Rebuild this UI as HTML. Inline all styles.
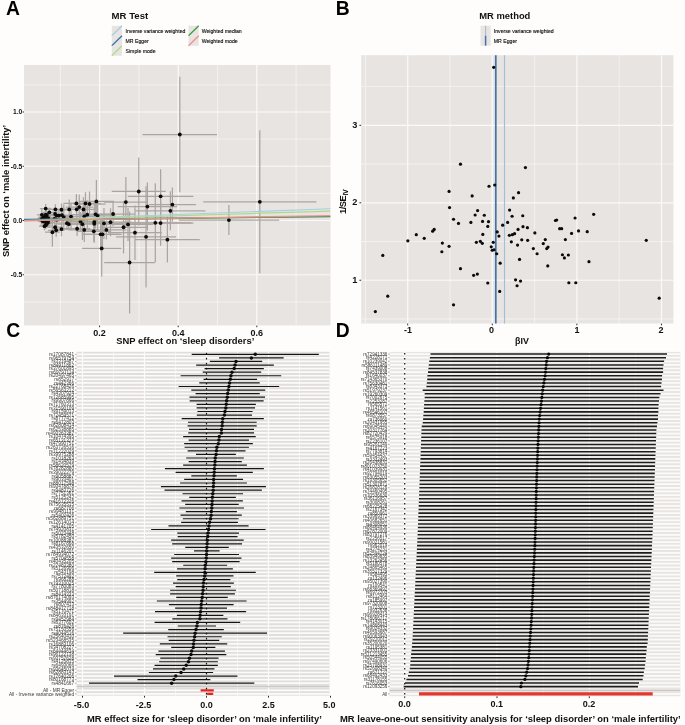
<!DOCTYPE html>
<html><head><meta charset="utf-8"><title>MR analysis figure</title>
<style>html,body{margin:0;padding:0;background:#fefdfb;}svg{display:block}</style></head>
<body><svg width="685" height="725" viewBox="0 0 685 725">
<rect width="685" height="725" fill="#fefdfb"/>
<rect x="24.0" y="65.0" width="306.5" height="260.4" fill="#e8e4e2"/>
<g stroke="#fbfaf9"><line x1="60.3" x2="60.3" y1="65.0" y2="325.4" stroke-width="0.6"/><line x1="138.9" x2="138.9" y1="65.0" y2="325.4" stroke-width="0.6"/><line x1="217.5" x2="217.5" y1="65.0" y2="325.4" stroke-width="0.6"/><line x1="296.1" x2="296.1" y1="65.0" y2="325.4" stroke-width="0.6"/><line y1="84.88" y2="84.88" x1="24.0" x2="330.5" stroke-width="0.6"/><line y1="139.12" y2="139.12" x1="24.0" x2="330.5" stroke-width="0.6"/><line y1="193.38" y2="193.38" x1="24.0" x2="330.5" stroke-width="0.6"/><line y1="247.62" y2="247.62" x1="24.0" x2="330.5" stroke-width="0.6"/><line y1="301.88" y2="301.88" x1="24.0" x2="330.5" stroke-width="0.6"/><line x1="99.6" x2="99.6" y1="65.0" y2="325.4" stroke-width="1.2"/><line x1="178.2" x2="178.2" y1="65.0" y2="325.4" stroke-width="1.2"/><line x1="256.8" x2="256.8" y1="65.0" y2="325.4" stroke-width="1.2"/><line y1="112" y2="112" x1="24.0" x2="330.5" stroke-width="1.2"/><line y1="166.25" y2="166.25" x1="24.0" x2="330.5" stroke-width="1.2"/><line y1="220.5" y2="220.5" x1="24.0" x2="330.5" stroke-width="1.2"/><line y1="274.75" y2="274.75" x1="24.0" x2="330.5" stroke-width="1.2"/></g>
<clipPath id="ca"><rect x="24.0" y="65.0" width="306.5" height="260.4"/></clipPath>
<g clip-path="url(#ca)"><g stroke="#aaa5a2" stroke-width="1.25" fill="none"><path d="M39.9 208.56H51.51M45.7 204.07V213.05"/><path d="M42.68 212.35H56.01M49.35 207.58V217.12"/><path d="M47.33 209.32H63.5M55.42 204.19V214.44"/><path d="M51.97 209.77H71M61.49 203.58V215.96"/><path d="M57.89 209.47H80.56M69.23 199.48V219.46"/><path d="M63.35 203.4H89.37M76.36 194.02V212.77"/><path d="M65.56 207.04H92.93M79.24 194.58V219.5"/><path d="M63.58 209.32H89.75M76.66 200.66V217.98"/><path d="M68.81 209.47H98.18M83.49 197.25V221.68"/><path d="M70.32 203.4H100.62M85.47 192.33V214.47"/><path d="M73.45 204.01H105.68M89.56 191.62V216.39"/><path d="M78.68 201.42H114.11M96.39 179.98V222.87"/><path d="M71.71 214.63H102.87M87.29 200.24V229.02"/><path d="M69.5 216.3H99.3M84.4 205.3V227.29"/><path d="M78.1 214.33H113.18M95.64 200.19V228.46"/><path d="M79.61 215.84H115.61M97.61 201.73V229.95"/><path d="M91.45 214.02H134.73M113.09 201.71V226.33"/><path d="M59.29 216.6H82.81M71.05 202.91V230.3"/><path d="M53.71 217.06H73.81M63.76 204.39V229.72"/><path d="M52.32 215.08H71.56M61.94 207.08V223.09"/><path d="M50 215.54H67.82M58.91 209.06V222.02"/><path d="M47.1 214.02H63.13M55.11 207.44V220.6"/><path d="M48.26 215.54H65M56.63 208.23V222.85"/><path d="M40.71 215.08H52.82M46.77 211.09V219.08"/><path d="M39.55 216.6H50.95M45.25 212.07V221.14"/><path d="M38.16 217.36H48.7M43.43 213.28V221.44"/><path d="M38.97 218.12H50.01M44.49 214.29V221.95"/><path d="M40.48 218.12H52.45M46.46 211.04V225.2"/><path d="M41.87 218.12H54.69M48.28 214.59V221.65"/><path d="M38.39 220.4H49.07M43.73 218.72V222.07"/><path d="M40.13 221.16H51.88M46.01 217.41V224.9"/><path d="M41.64 222.67H54.32M47.98 218.41V226.93"/><path d="M40.71 223.43H52.82M46.77 219.33V227.53"/><path d="M38.97 226.16H50.01M44.49 222.09V230.24"/><path d="M46.52 218.88H62.19M54.35 213.61V224.14"/><path d="M48.26 219.64H65M56.63 208.18V231.09"/><path d="M47.1 227.23H63.13M55.11 221.47V232.98"/><path d="M47.91 230.26H64.44M56.18 223.84V236.68"/><path d="M45.01 232.23H59.76M52.38 217.78V246.69"/><path d="M51.97 229.05H71M61.49 221.81V236.29"/><path d="M56.15 223.13H77.75M66.95 216.25V230"/><path d="M57.55 224.19H80M68.77 217.88V230.5"/><path d="M63.93 228.74H90.31M77.12 221.53V235.95"/><path d="M66.49 221.61H94.43M80.46 211.94V231.28"/><path d="M68 224.19H96.87M82.43 208.29V240.09"/><path d="M69.39 229.96H99.12M84.25 217.84V242.07"/><path d="M77.05 221.91H111.49M94.27 201.01V242.82"/><path d="M77.05 223.74H111.49M94.27 213.1V234.37"/><path d="M76.7 231.32H110.93M93.81 220.97V241.68"/><path d="M84.48 223.43H123.48M103.98 207.95V238.91"/><path d="M89.47 222.22H131.54M110.51 208.16V236.27"/><path d="M86.34 229.96H126.48M106.41 220.53V239.38"/><path d="M81.93 234.36H119.36M100.64 218.32V250.4"/><path d="M83.32 234.36H121.61M102.47 219.19V249.52"/><path d="M82.11 248.47H121.31M101.71 220.47V276.47"/><path d="M103.85 202.09H147.85M125.85 177.09V227.09"/><path d="M111.77 191.49H165.77M138.77 157.49V225.49"/><path d="M117.68 206.56H177.08M147.38 182.56V230.56"/><path d="M127.81 196.29H193.43M160.62 169.29V223.29"/><path d="M148.68 204.57H196.08M172.38 187.57V221.57"/><path d="M135.39 210.86H205.39M170.39 191.36V230.36"/><path d="M119.32 222.78H191.32M155.32 183.28V262.28"/><path d="M127.81 223.11H193.43M160.62 200.51V245.71"/><path d="M102.86 224.44H153.15M128.01 207.94V240.94"/><path d="M99.44 227.25H147.63M123.54 200.95V253.55"/><path d="M107.96 232.72H161.96M134.96 205.42V260.02"/><path d="M116.05 236.85H176.05M146.05 186.25V287.45"/><path d="M135.01 239.67H199.81M167.41 216.87V262.47"/><path d="M104.2 262.5H155M129.6 211.5V313.5"/><path d="M142.6 134.5H217M179.8 76.8V192.2"/><path d="M203.2 201.8H316.4M259.8 130.3V273.3"/><path d="M178.6 220.1H279.2M228.9 205.1V235.1"/><path d="M41.76 220.51H54.52M48.14 215.12V225.89"/><path d="M40.05 217.65H51.75M45.9 213.56V221.74"/><path d="M39.79 218.44H51.33M45.56 214.35V222.52"/><path d="M36.97 214.81H46.78M41.87 208.87V220.75"/><path d="M39.8 219.97H51.35M45.58 215.65V224.28"/><path d="M36.9 218.99H46.67M41.79 215.41V222.57"/><path d="M37.83 220.15H48.17M43 216.42V223.88"/><path d="M39.65 220.15H51.1M45.37 215.15V225.15"/><path d="M37.35 220.33H47.4M42.38 217.69V222.97"/><path d="M38.9 221.64H49.9M44.4 215.67V227.61"/><path d="M39.56 219.15H50.96M45.26 214.92V223.38"/><path d="M39.72 220.37H51.23M45.47 215.53V225.2"/><path d="M39.67 214.98H51.13M45.4 210.94V219.01"/><path d="M40.32 218.07H52.2M46.26 213.5V222.64"/><path d="M37.19 219.78H47.14M42.17 216.37V223.19"/><path d="M39.72 219.87H51.23M45.48 214.35V225.39"/><path d="M37.65 221.19H47.88M42.76 217.78V224.6"/><path d="M37.16 219.31H47.09M42.13 216.25V222.36"/><path d="M40.49 214.9H52.46M46.47 210.69V219.11"/><path d="M39.69 220.58H51.17M45.43 215.88V225.28"/><path d="M39.98 225.21H51.65M45.81 221.08V229.34"/></g>
<g fill="#0a0a0a"><circle cx="45.7" cy="208.56" r="1.9"/><circle cx="49.35" cy="212.35" r="1.9"/><circle cx="55.42" cy="209.32" r="1.9"/><circle cx="61.49" cy="209.77" r="1.9"/><circle cx="69.23" cy="209.47" r="1.9"/><circle cx="76.36" cy="203.4" r="1.9"/><circle cx="79.24" cy="207.04" r="1.9"/><circle cx="76.66" cy="209.32" r="1.9"/><circle cx="83.49" cy="209.47" r="1.9"/><circle cx="85.47" cy="203.4" r="1.9"/><circle cx="89.56" cy="204.01" r="1.9"/><circle cx="96.39" cy="201.42" r="1.9"/><circle cx="87.29" cy="214.63" r="1.9"/><circle cx="84.4" cy="216.3" r="1.9"/><circle cx="95.64" cy="214.33" r="1.9"/><circle cx="97.61" cy="215.84" r="1.9"/><circle cx="113.09" cy="214.02" r="1.9"/><circle cx="71.05" cy="216.6" r="1.9"/><circle cx="63.76" cy="217.06" r="1.9"/><circle cx="61.94" cy="215.08" r="1.9"/><circle cx="58.91" cy="215.54" r="1.9"/><circle cx="55.11" cy="214.02" r="1.9"/><circle cx="56.63" cy="215.54" r="1.9"/><circle cx="46.77" cy="215.08" r="1.9"/><circle cx="45.25" cy="216.6" r="1.9"/><circle cx="43.43" cy="217.36" r="1.9"/><circle cx="44.49" cy="218.12" r="1.9"/><circle cx="46.46" cy="218.12" r="1.9"/><circle cx="48.28" cy="218.12" r="1.9"/><circle cx="43.73" cy="220.4" r="1.9"/><circle cx="46.01" cy="221.16" r="1.9"/><circle cx="47.98" cy="222.67" r="1.9"/><circle cx="46.77" cy="223.43" r="1.9"/><circle cx="44.49" cy="226.16" r="1.9"/><circle cx="54.35" cy="218.88" r="1.9"/><circle cx="56.63" cy="219.64" r="1.9"/><circle cx="55.11" cy="227.23" r="1.9"/><circle cx="56.18" cy="230.26" r="1.9"/><circle cx="52.38" cy="232.23" r="1.9"/><circle cx="61.49" cy="229.05" r="1.9"/><circle cx="66.95" cy="223.13" r="1.9"/><circle cx="68.77" cy="224.19" r="1.9"/><circle cx="77.12" cy="228.74" r="1.9"/><circle cx="80.46" cy="221.61" r="1.9"/><circle cx="82.43" cy="224.19" r="1.9"/><circle cx="84.25" cy="229.96" r="1.9"/><circle cx="94.27" cy="221.91" r="1.9"/><circle cx="94.27" cy="223.74" r="1.9"/><circle cx="93.81" cy="231.32" r="1.9"/><circle cx="103.98" cy="223.43" r="1.9"/><circle cx="110.51" cy="222.22" r="1.9"/><circle cx="106.41" cy="229.96" r="1.9"/><circle cx="100.64" cy="234.36" r="1.9"/><circle cx="102.47" cy="234.36" r="1.9"/><circle cx="101.71" cy="248.47" r="1.9"/><circle cx="125.85" cy="202.09" r="1.9"/><circle cx="138.77" cy="191.49" r="1.9"/><circle cx="147.38" cy="206.56" r="1.9"/><circle cx="160.62" cy="196.29" r="1.9"/><circle cx="172.38" cy="204.57" r="1.9"/><circle cx="170.39" cy="210.86" r="1.9"/><circle cx="155.32" cy="222.78" r="1.9"/><circle cx="160.62" cy="223.11" r="1.9"/><circle cx="128.01" cy="224.44" r="1.9"/><circle cx="123.54" cy="227.25" r="1.9"/><circle cx="134.96" cy="232.72" r="1.9"/><circle cx="146.05" cy="236.85" r="1.9"/><circle cx="167.41" cy="239.67" r="1.9"/><circle cx="129.6" cy="262.5" r="1.9"/><circle cx="179.8" cy="134.5" r="1.9"/><circle cx="259.8" cy="201.8" r="1.9"/><circle cx="228.9" cy="220.1" r="1.9"/><circle cx="48.14" cy="220.51" r="1.9"/><circle cx="45.9" cy="217.65" r="1.9"/><circle cx="45.56" cy="218.44" r="1.9"/><circle cx="41.87" cy="214.81" r="1.9"/><circle cx="45.58" cy="219.97" r="1.9"/><circle cx="41.79" cy="218.99" r="1.9"/><circle cx="43" cy="220.15" r="1.9"/><circle cx="45.37" cy="220.15" r="1.9"/><circle cx="42.38" cy="220.33" r="1.9"/><circle cx="44.4" cy="221.64" r="1.9"/><circle cx="45.26" cy="219.15" r="1.9"/><circle cx="45.47" cy="220.37" r="1.9"/><circle cx="45.4" cy="214.98" r="1.9"/><circle cx="46.26" cy="218.07" r="1.9"/><circle cx="42.17" cy="219.78" r="1.9"/><circle cx="45.48" cy="219.87" r="1.9"/><circle cx="42.76" cy="221.19" r="1.9"/><circle cx="42.13" cy="219.31" r="1.9"/><circle cx="46.47" cy="214.9" r="1.9"/><circle cx="45.43" cy="220.58" r="1.9"/><circle cx="45.81" cy="225.21" r="1.9"/></g>
<line x1="24.0" y1="220.3" x2="330.5" y2="208.7" stroke="#a6cee3" stroke-width="1.15"/>
<line x1="24.0" y1="219.4" x2="330.5" y2="216.6" stroke="#3b74b0" stroke-width="1.15"/>
<line x1="24.0" y1="220.5" x2="330.5" y2="211.1" stroke="#a9dd8a" stroke-width="1.15"/>
<line x1="24.0" y1="220.7" x2="330.5" y2="216.5" stroke="#3f9e3a" stroke-width="1.15"/>
<line x1="24.0" y1="220.6" x2="330.5" y2="215.6" stroke="#f28e8c" stroke-width="1.15"/>
</g>
<text x="22.3" y="114.3" text-anchor="end" font-size="6.7" font-weight="bold" font-family="Liberation Sans, Arial, sans-serif" fill="#111">1.0</text>
<line x1="22.6" x2="24" y1="112" y2="112" stroke="#151515" stroke-width="0.9"/>
<text x="22.3" y="168.55" text-anchor="end" font-size="6.7" font-weight="bold" font-family="Liberation Sans, Arial, sans-serif" fill="#111">-0.5</text>
<line x1="22.6" x2="24" y1="166.25" y2="166.25" stroke="#151515" stroke-width="0.9"/>
<text x="22.3" y="222.8" text-anchor="end" font-size="6.7" font-weight="bold" font-family="Liberation Sans, Arial, sans-serif" fill="#111">0.0</text>
<line x1="22.6" x2="24" y1="220.5" y2="220.5" stroke="#151515" stroke-width="0.9"/>
<text x="22.3" y="277.05" text-anchor="end" font-size="6.7" font-weight="bold" font-family="Liberation Sans, Arial, sans-serif" fill="#111">-0.5</text>
<line x1="22.6" x2="24" y1="274.75" y2="274.75" stroke="#151515" stroke-width="0.9"/>
<text x="99.6" y="336.3" text-anchor="middle" font-size="9" font-weight="bold" font-family="Liberation Sans, Arial, sans-serif" fill="#111">0.2</text>
<line y1="325.6" y2="327.2" x1="99.6" x2="99.6" stroke="#151515" stroke-width="0.9"/>
<text x="178.2" y="336.3" text-anchor="middle" font-size="9" font-weight="bold" font-family="Liberation Sans, Arial, sans-serif" fill="#111">0.4</text>
<line y1="325.6" y2="327.2" x1="178.2" x2="178.2" stroke="#151515" stroke-width="0.9"/>
<text x="256.8" y="336.3" text-anchor="middle" font-size="9" font-weight="bold" font-family="Liberation Sans, Arial, sans-serif" fill="#111">0.6</text>
<line y1="325.6" y2="327.2" x1="256.8" x2="256.8" stroke="#151515" stroke-width="0.9"/>
<text x="185.3" y="343.6" text-anchor="middle" font-size="9.4" font-weight="bold" font-family="Liberation Sans, Arial, sans-serif" fill="#111">SNP effect on ‘sleep disorders’</text>
<text transform="translate(8.7,191) rotate(-90)" text-anchor="middle" font-size="9.4" font-weight="bold" font-family="Liberation Sans, Arial, sans-serif" fill="#111">SNP effect on ‘male infertility’</text>
<text x="111.6" y="19.2" font-size="9.6" font-weight="bold" font-family="Liberation Sans, Arial, sans-serif" fill="#111">MR Test</text>
<rect x="111.8" y="25.8" width="10.2" height="10" fill="#e8e4e2"/>
<line x1="111.8" y1="35.8" x2="122.0" y2="25.8" stroke="#a6cee3" stroke-width="1.3"/>
<rect x="111.8" y="35.8" width="10.2" height="10" fill="#e8e4e2"/>
<line x1="111.8" y1="45.8" x2="122.0" y2="35.8" stroke="#3b74b0" stroke-width="1.3"/>
<rect x="111.8" y="45.8" width="10.2" height="10" fill="#e8e4e2"/>
<line x1="111.8" y1="55.8" x2="122.0" y2="45.8" stroke="#a9dd8a" stroke-width="1.3"/>
<rect x="188.5" y="25.8" width="10.2" height="10" fill="#e8e4e2"/>
<line x1="188.5" y1="35.8" x2="198.7" y2="25.8" stroke="#3f9e3a" stroke-width="1.3"/>
<rect x="188.5" y="35.8" width="10.2" height="10" fill="#e8e4e2"/>
<line x1="188.5" y1="45.8" x2="198.7" y2="35.8" stroke="#f28e8c" stroke-width="1.3"/>
<text x="125.5" y="32.6" font-size="5.17" font-family="Liberation Sans, Arial, sans-serif" fill="#0a0a0a" stroke="#0a0a0a" stroke-width="0.12">Inverse variance weighted</text>
<text x="125.5" y="42.6" font-size="5.17" font-family="Liberation Sans, Arial, sans-serif" fill="#0a0a0a" stroke="#0a0a0a" stroke-width="0.12">MR Egger</text>
<text x="125.5" y="52.6" font-size="5.17" font-family="Liberation Sans, Arial, sans-serif" fill="#0a0a0a" stroke="#0a0a0a" stroke-width="0.12">Simple mode</text>
<text x="201.7" y="32.6" font-size="5.17" font-family="Liberation Sans, Arial, sans-serif" fill="#0a0a0a" stroke="#0a0a0a" stroke-width="0.12">Weighted median</text>
<text x="201.7" y="42.6" font-size="5.17" font-family="Liberation Sans, Arial, sans-serif" fill="#0a0a0a" stroke="#0a0a0a" stroke-width="0.12">Weighted mode</text>
<rect x="361.2" y="55.2" width="312.2" height="268.3" fill="#e8e4e2"/>
<g stroke="#fbfaf9"><line x1="365.4" x2="365.4" y1="55.2" y2="323.5" stroke-width="0.6"/><line x1="450" x2="450" y1="55.2" y2="323.5" stroke-width="0.6"/><line x1="534.6" x2="534.6" y1="55.2" y2="323.5" stroke-width="0.6"/><line x1="619.2" x2="619.2" y1="55.2" y2="323.5" stroke-width="0.6"/><line y1="86.62" y2="86.62" x1="361.2" x2="673.4" stroke-width="0.6"/><line y1="164.07" y2="164.07" x1="361.2" x2="673.4" stroke-width="0.6"/><line y1="241.52" y2="241.52" x1="361.2" x2="673.4" stroke-width="0.6"/><line y1="318.97" y2="318.97" x1="361.2" x2="673.4" stroke-width="0.6"/><line x1="407.7" x2="407.7" y1="55.2" y2="323.5" stroke-width="1.2"/><line x1="492.3" x2="492.3" y1="55.2" y2="323.5" stroke-width="1.2"/><line x1="576.9" x2="576.9" y1="55.2" y2="323.5" stroke-width="1.2"/><line x1="661.5" x2="661.5" y1="55.2" y2="323.5" stroke-width="1.2"/><line y1="125.35" y2="125.35" x1="361.2" x2="673.4" stroke-width="1.2"/><line y1="202.8" y2="202.8" x1="361.2" x2="673.4" stroke-width="1.2"/><line y1="280.25" y2="280.25" x1="361.2" x2="673.4" stroke-width="1.2"/></g>
<line x1="504.5" x2="504.5" y1="55.2" y2="323.5" stroke="#9dbfd8" stroke-width="1.1"/>
<line x1="495.8" x2="495.8" y1="55.2" y2="323.5" stroke="#4472a8" stroke-width="1.7"/>
<g fill="#0a0a0a"><circle cx="460.47" cy="164.15" r="1.6"/><circle cx="449.06" cy="191.45" r="1.6"/><circle cx="489.01" cy="186.23" r="1.6"/><circle cx="494.72" cy="184.99" r="1.6"/><circle cx="472.14" cy="195.91" r="1.6"/><circle cx="518.55" cy="192.69" r="1.6"/><circle cx="513.34" cy="197.9" r="1.6"/><circle cx="449.55" cy="207.58" r="1.6"/><circle cx="477.6" cy="210.55" r="1.6"/><circle cx="509.61" cy="210.06" r="1.6"/><circle cx="475.12" cy="215.02" r="1.6"/><circle cx="484.3" cy="215.27" r="1.6"/><circle cx="512.09" cy="216.26" r="1.6"/><circle cx="522.77" cy="215.77" r="1.6"/><circle cx="453.53" cy="219.24" r="1.6"/><circle cx="458.49" cy="223.46" r="1.6"/><circle cx="470.9" cy="222.47" r="1.6"/><circle cx="482.56" cy="221.47" r="1.6"/><circle cx="488.52" cy="221.72" r="1.6"/><circle cx="507.63" cy="222.47" r="1.6"/><circle cx="502.66" cy="225.2" r="1.6"/><circle cx="487.77" cy="226.44" r="1.6"/><circle cx="523.01" cy="226.69" r="1.6"/><circle cx="434.17" cy="229.42" r="1.6"/><circle cx="432.68" cy="231.15" r="1.6"/><circle cx="518.05" cy="229.42" r="1.6"/><circle cx="497.2" cy="231.9" r="1.6"/><circle cx="416.3" cy="234.63" r="1.6"/><circle cx="482.81" cy="234.38" r="1.6"/><circle cx="498.94" cy="236.12" r="1.6"/><circle cx="509.36" cy="235.37" r="1.6"/><circle cx="512.34" cy="234.63" r="1.6"/><circle cx="514.58" cy="233.64" r="1.6"/><circle cx="424.24" cy="238.35" r="1.6"/><circle cx="407.86" cy="240.83" r="1.6"/><circle cx="442.36" cy="243.07" r="1.6"/><circle cx="476.36" cy="242.32" r="1.6"/><circle cx="480.33" cy="241.33" r="1.6"/><circle cx="482.31" cy="243.31" r="1.6"/><circle cx="493.23" cy="242.32" r="1.6"/><circle cx="511.35" cy="241.82" r="1.6"/><circle cx="521.77" cy="239.84" r="1.6"/><circle cx="449.06" cy="246.29" r="1.6"/><circle cx="491.25" cy="246.79" r="1.6"/><circle cx="517.55" cy="245.05" r="1.6"/><circle cx="441.86" cy="251.75" r="1.6"/><circle cx="492.24" cy="250.26" r="1.6"/><circle cx="493.98" cy="249.77" r="1.6"/><circle cx="496.71" cy="253.74" r="1.6"/><circle cx="382.8" cy="255.47" r="1.6"/><circle cx="519.54" cy="259.45" r="1.6"/><circle cx="500.18" cy="263.17" r="1.6"/><circle cx="460.47" cy="268.63" r="1.6"/><circle cx="473.63" cy="275.33" r="1.6"/><circle cx="477.35" cy="274.09" r="1.6"/><circle cx="515.57" cy="279.8" r="1.6"/><circle cx="520.53" cy="281.04" r="1.6"/><circle cx="487.77" cy="283.02" r="1.6"/><circle cx="517.06" cy="285.75" r="1.6"/><circle cx="499.69" cy="291.46" r="1.6"/><circle cx="387.76" cy="296.18" r="1.6"/><circle cx="453.53" cy="304.86" r="1.6"/><circle cx="375.35" cy="311.56" r="1.6"/><circle cx="525.42" cy="167.62" r="1.6"/><circle cx="527.41" cy="227.68" r="1.6"/><circle cx="534.85" cy="232.89" r="1.6"/><circle cx="527.66" cy="240.34" r="1.6"/><circle cx="545.28" cy="239.59" r="1.6"/><circle cx="543.29" cy="243.56" r="1.6"/><circle cx="548.01" cy="247.04" r="1.6"/><circle cx="546.77" cy="248.53" r="1.6"/><circle cx="533.36" cy="248.53" r="1.6"/><circle cx="537.09" cy="253.74" r="1.6"/><circle cx="547.76" cy="265.9" r="1.6"/><circle cx="555.45" cy="220.48" r="1.6"/><circle cx="556.69" cy="219.99" r="1.6"/><circle cx="575.06" cy="218" r="1.6"/><circle cx="593.67" cy="214.28" r="1.6"/><circle cx="559.67" cy="228.67" r="1.6"/><circle cx="561.66" cy="228.67" r="1.6"/><circle cx="578.53" cy="230.91" r="1.6"/><circle cx="587.22" cy="231.65" r="1.6"/><circle cx="571.58" cy="233.39" r="1.6"/><circle cx="565.38" cy="239.59" r="1.6"/><circle cx="562.4" cy="254.73" r="1.6"/><circle cx="564.39" cy="257.96" r="1.6"/><circle cx="568.36" cy="254.98" r="1.6"/><circle cx="588.96" cy="261.68" r="1.6"/><circle cx="568.85" cy="282.77" r="1.6"/><circle cx="575.8" cy="282.77" r="1.6"/><circle cx="646.28" cy="240.34" r="1.6"/><circle cx="659.19" cy="298.16" r="1.6"/><circle cx="493.7" cy="67.3" r="1.6"/></g>
<text x="357.3" y="127.65" text-anchor="end" font-size="9.2" font-weight="bold" font-family="Liberation Sans, Arial, sans-serif" fill="#111">3</text>
<line x1="359.4" x2="361.2" y1="125.35" y2="125.35" stroke="#151515" stroke-width="0.9"/>
<text x="357.3" y="205.1" text-anchor="end" font-size="9.2" font-weight="bold" font-family="Liberation Sans, Arial, sans-serif" fill="#111">2</text>
<line x1="359.4" x2="361.2" y1="202.8" y2="202.8" stroke="#151515" stroke-width="0.9"/>
<text x="357.3" y="282.55" text-anchor="end" font-size="9.2" font-weight="bold" font-family="Liberation Sans, Arial, sans-serif" fill="#111">1</text>
<line x1="359.4" x2="361.2" y1="280.25" y2="280.25" stroke="#151515" stroke-width="0.9"/>
<text x="408" y="333" text-anchor="middle" font-size="9" font-weight="bold" font-family="Liberation Sans, Arial, sans-serif" fill="#111">-1</text>
<line y1="323.6" y2="325.3" x1="407.7" x2="407.7" stroke="#151515" stroke-width="0.9"/>
<text x="491.5" y="333" text-anchor="middle" font-size="9" font-weight="bold" font-family="Liberation Sans, Arial, sans-serif" fill="#111">0</text>
<line y1="323.6" y2="325.3" x1="492.3" x2="492.3" stroke="#151515" stroke-width="0.9"/>
<text x="576.9" y="333" text-anchor="middle" font-size="9" font-weight="bold" font-family="Liberation Sans, Arial, sans-serif" fill="#111">1</text>
<line y1="323.6" y2="325.3" x1="576.9" x2="576.9" stroke="#151515" stroke-width="0.9"/>
<text x="661" y="333" text-anchor="middle" font-size="9" font-weight="bold" font-family="Liberation Sans, Arial, sans-serif" fill="#111">2</text>
<line y1="323.6" y2="325.3" x1="661.5" x2="661.5" stroke="#151515" stroke-width="0.9"/>
<text x="522" y="343.6" text-anchor="middle" font-size="8.9" font-weight="bold" font-family="Liberation Sans, Arial, sans-serif" fill="#111">βIV</text>
<text transform="translate(345.8,214) rotate(-90)" font-size="9.3" letter-spacing="-0.45" font-weight="bold" font-family="Liberation Sans, Arial, sans-serif" fill="#111">1/SE<tspan font-size="6.3" letter-spacing="-0.2" font-weight="normal" dy="1.9" dx="0.3" fill="#000" stroke="#000" stroke-width="0.2">IV</tspan></text>
<text x="479.3" y="18.8" font-size="9.4" font-weight="bold" font-family="Liberation Sans, Arial, sans-serif" fill="#111">MR method</text>
<rect x="480.5" y="25.7" width="10.2" height="20" fill="#e8e4e2"/>
<line x1="485.6" x2="485.6" y1="25.7" y2="35.7" stroke="#9dbfd8" stroke-width="1.1"/>
<line x1="485.6" x2="485.6" y1="35.7" y2="45.7" stroke="#4472a8" stroke-width="1.5"/>
<text x="493.8" y="32.8" font-size="5.17" font-family="Liberation Sans, Arial, sans-serif" fill="#0a0a0a" stroke="#0a0a0a" stroke-width="0.12">Inverse variance weighted</text>
<text x="493.8" y="42.8" font-size="5.17" font-family="Liberation Sans, Arial, sans-serif" fill="#0a0a0a" stroke="#0a0a0a" stroke-width="0.12">MR Egger</text>
<rect x="76.5" y="351.8" width="253" height="343.9" fill="#e1dddb"/>
<path d="M76.5 354.3H329.5M76.5 357.88H329.5M76.5 361.45H329.5M76.5 365.03H329.5M76.5 368.6H329.5M76.5 372.18H329.5M76.5 375.75H329.5M76.5 379.32H329.5M76.5 382.9H329.5M76.5 386.48H329.5M76.5 390.05H329.5M76.5 393.62H329.5M76.5 397.2H329.5M76.5 400.78H329.5M76.5 404.35H329.5M76.5 407.93H329.5M76.5 411.5H329.5M76.5 415.08H329.5M76.5 418.65H329.5M76.5 422.23H329.5M76.5 425.8H329.5M76.5 429.38H329.5M76.5 432.95H329.5M76.5 436.53H329.5M76.5 440.1H329.5M76.5 443.68H329.5M76.5 447.25H329.5M76.5 450.83H329.5M76.5 454.4H329.5M76.5 457.98H329.5M76.5 461.55H329.5M76.5 465.12H329.5M76.5 468.7H329.5M76.5 472.28H329.5M76.5 475.85H329.5M76.5 479.43H329.5M76.5 483H329.5M76.5 486.58H329.5M76.5 490.15H329.5M76.5 493.73H329.5M76.5 497.3H329.5M76.5 500.88H329.5M76.5 504.45H329.5M76.5 508.02H329.5M76.5 511.6H329.5M76.5 515.17H329.5M76.5 518.75H329.5M76.5 522.33H329.5M76.5 525.9H329.5M76.5 529.48H329.5M76.5 533.05H329.5M76.5 536.62H329.5M76.5 540.2H329.5M76.5 543.78H329.5M76.5 547.35H329.5M76.5 550.92H329.5M76.5 554.5H329.5M76.5 558.08H329.5M76.5 561.65H329.5M76.5 565.23H329.5M76.5 568.8H329.5M76.5 572.38H329.5M76.5 575.95H329.5M76.5 579.53H329.5M76.5 583.1H329.5M76.5 586.67H329.5M76.5 590.25H329.5M76.5 593.83H329.5M76.5 597.4H329.5M76.5 600.98H329.5M76.5 604.55H329.5M76.5 608.12H329.5M76.5 611.7H329.5M76.5 615.28H329.5M76.5 618.85H329.5M76.5 622.42H329.5M76.5 626H329.5M76.5 629.58H329.5M76.5 633.15H329.5M76.5 636.73H329.5M76.5 640.3H329.5M76.5 643.88H329.5M76.5 647.45H329.5M76.5 651.03H329.5M76.5 654.6H329.5M76.5 658.17H329.5M76.5 661.75H329.5M76.5 665.33H329.5M76.5 668.9H329.5M76.5 672.48H329.5M76.5 676.05H329.5M76.5 679.62H329.5M76.5 683.2H329.5M76.5 686.78H329.5M76.5 690.35H329.5M76.5 693.92H329.5" stroke="#fcfbfa" stroke-width="1.7" fill="none"/>
<g stroke="#fcfbfa"><line x1="113.5" x2="113.5" y1="351.8" y2="695.7" stroke-width="0.6"/><line x1="175.5" x2="175.5" y1="351.8" y2="695.7" stroke-width="0.6"/><line x1="237.5" x2="237.5" y1="351.8" y2="695.7" stroke-width="0.6"/><line x1="299.5" x2="299.5" y1="351.8" y2="695.7" stroke-width="0.6"/><line x1="82.5" x2="82.5" y1="351.8" y2="695.7" stroke-width="1.2"/><line x1="144.5" x2="144.5" y1="351.8" y2="695.7" stroke-width="1.2"/><line x1="206.5" x2="206.5" y1="351.8" y2="695.7" stroke-width="1.2"/><line x1="268.5" x2="268.5" y1="351.8" y2="695.7" stroke-width="1.2"/></g>
<clipPath id="cc"><rect x="76.5" y="351.8" width="253" height="343.9"/></clipPath>
<g clip-path="url(#cc)"><path d="M191.69 354.3H318.82M219.08 357.88H283.66M209.88 361.45H262.2M196.19 365.03H273.85M204.57 368.6H263.84M202.73 372.18H261.18M180.66 375.75H281.21M203.55 379.32H257.09M199.26 382.9H259.75M178.61 386.48H279.17M191.28 390.05H265.27M195.58 393.62H259.75M189.45 397.2H265.07M189.65 400.78H263.64M196.6 404.35H255.87M196.6 407.93H255.05M197.42 411.5H252.6M196.8 415.08H251.99M181.68 418.65H263.84M188.01 422.23H256.69M187.61 425.8H256.69M189.04 429.38H254.03M188.26 432.95H254.07M183.15 436.53H255.71M188.67 440.1H248.96M184.18 443.68H252.85M184.58 447.25H248.96M187.65 450.83H245.49M196.03 454.4H235.88M186.22 457.98H243.85M188.67 461.55H241.81M183.15 465.12H246.92M164.96 468.7H263.88M175.59 472.28H252.85M191.33 475.85H236.91M184.18 479.43H243.04M180.09 483H246.92M160.88 486.58H265.93M164.55 490.15H261.84M182.54 493.73H243.04M189.28 497.3H235.88M181.52 500.88H242.83M185.2 504.45H238.74M179.47 508.02H244.06M185.81 511.6H236.91M180.5 515.17H241.81M182.79 518.75H238.58M181.15 522.33H237.97M168.48 525.9H248.6M151.11 529.48H265.56M177.27 533.05H238.99M177.68 536.62H237.56M171.14 540.2H243.69M172.16 543.78H242.06M185.24 547.35H228.77M194.03 550.92H219.58M174.2 554.5H238.99M171.14 558.08H241.45M172.16 561.65H239.61M183.2 565.23H227.14M177.07 568.8H232.86M154.18 572.38H255.75M176.25 575.95H233.47M177.27 579.53H230.41M172.98 583.1H233.88M175.64 586.67H230.82M170.12 590.25H235.93M170.12 593.83H234.91M176.25 597.4H227.75M156.85 600.98H246.58M168.92 604.55H233.59M175.07 608.12H226.99M155.02 611.7H246.12M176.89 615.28H223.35M172.33 618.85H227.45M154.57 622.42H240.2M177.8 626H216.06M168.23 629.58H223.8M123.14 633.15H267.07M167.55 636.73H221.75M168.69 640.3H219.25M159.81 643.88H227.22M171.19 647.45H215.38M158.44 651.03H224.94M155.71 654.6H226.31M160.26 658.17H218.56M159.12 661.75H217.88M154.57 665.33H217.88M152.98 668.9H214.46M148.88 672.48H213.1M114.03 676.05H237.47M137.49 679.62H210.36M88.98 683.2H254.32" stroke="#151413" stroke-width="1.2" fill="none"/>
<g fill="#0a0a0a"><circle cx="255.26" cy="354.3" r="1.75"/><circle cx="251.37" cy="357.88" r="1.75"/><circle cx="236.04" cy="361.45" r="1.75"/><circle cx="235.02" cy="365.03" r="1.75"/><circle cx="234.2" cy="368.6" r="1.75"/><circle cx="231.96" cy="372.18" r="1.75"/><circle cx="230.93" cy="375.75" r="1.75"/><circle cx="230.32" cy="379.32" r="1.75"/><circle cx="229.5" cy="382.9" r="1.75"/><circle cx="228.89" cy="386.48" r="1.75"/><circle cx="228.28" cy="390.05" r="1.75"/><circle cx="227.66" cy="393.62" r="1.75"/><circle cx="227.26" cy="397.2" r="1.75"/><circle cx="226.64" cy="400.78" r="1.75"/><circle cx="226.23" cy="404.35" r="1.75"/><circle cx="225.82" cy="407.93" r="1.75"/><circle cx="225.01" cy="411.5" r="1.75"/><circle cx="224.39" cy="415.08" r="1.75"/><circle cx="222.76" cy="418.65" r="1.75"/><circle cx="222.35" cy="422.23" r="1.75"/><circle cx="222.15" cy="425.8" r="1.75"/><circle cx="221.53" cy="429.38" r="1.75"/><circle cx="221.37" cy="432.95" r="1.75"/><circle cx="219.33" cy="436.53" r="1.75"/><circle cx="218.92" cy="440.1" r="1.75"/><circle cx="218.31" cy="443.68" r="1.75"/><circle cx="216.88" cy="447.25" r="1.75"/><circle cx="216.47" cy="450.83" r="1.75"/><circle cx="216.06" cy="454.4" r="1.75"/><circle cx="215.24" cy="457.98" r="1.75"/><circle cx="215.04" cy="461.55" r="1.75"/><circle cx="214.83" cy="465.12" r="1.75"/><circle cx="214.42" cy="468.7" r="1.75"/><circle cx="214.22" cy="472.28" r="1.75"/><circle cx="214.01" cy="475.85" r="1.75"/><circle cx="213.61" cy="479.43" r="1.75"/><circle cx="213.61" cy="483" r="1.75"/><circle cx="213.4" cy="486.58" r="1.75"/><circle cx="213.2" cy="490.15" r="1.75"/><circle cx="212.79" cy="493.73" r="1.75"/><circle cx="212.38" cy="497.3" r="1.75"/><circle cx="212.18" cy="500.88" r="1.75"/><circle cx="211.97" cy="504.45" r="1.75"/><circle cx="211.77" cy="508.02" r="1.75"/><circle cx="211.36" cy="511.6" r="1.75"/><circle cx="211.15" cy="515.17" r="1.75"/><circle cx="210.58" cy="518.75" r="1.75"/><circle cx="209.56" cy="522.33" r="1.75"/><circle cx="208.95" cy="525.9" r="1.75"/><circle cx="208.54" cy="529.48" r="1.75"/><circle cx="208.13" cy="533.05" r="1.75"/><circle cx="207.72" cy="536.62" r="1.75"/><circle cx="207.31" cy="540.2" r="1.75"/><circle cx="207.11" cy="543.78" r="1.75"/><circle cx="206.91" cy="547.35" r="1.75"/><circle cx="206.7" cy="550.92" r="1.75"/><circle cx="206.5" cy="554.5" r="1.75"/><circle cx="206.29" cy="558.08" r="1.75"/><circle cx="205.88" cy="561.65" r="1.75"/><circle cx="205.27" cy="565.23" r="1.75"/><circle cx="205.07" cy="568.8" r="1.75"/><circle cx="204.86" cy="572.38" r="1.75"/><circle cx="204.66" cy="575.95" r="1.75"/><circle cx="204.04" cy="579.53" r="1.75"/><circle cx="203.43" cy="583.1" r="1.75"/><circle cx="203.23" cy="586.67" r="1.75"/><circle cx="203.02" cy="590.25" r="1.75"/><circle cx="202.61" cy="593.83" r="1.75"/><circle cx="202.2" cy="597.4" r="1.75"/><circle cx="201.71" cy="600.98" r="1.75"/><circle cx="201.26" cy="604.55" r="1.75"/><circle cx="201.03" cy="608.12" r="1.75"/><circle cx="200.57" cy="611.7" r="1.75"/><circle cx="200.12" cy="615.28" r="1.75"/><circle cx="199.89" cy="618.85" r="1.75"/><circle cx="197.38" cy="622.42" r="1.75"/><circle cx="196.93" cy="626" r="1.75"/><circle cx="196.02" cy="629.58" r="1.75"/><circle cx="195.11" cy="633.15" r="1.75"/><circle cx="194.65" cy="636.73" r="1.75"/><circle cx="193.97" cy="640.3" r="1.75"/><circle cx="193.51" cy="643.88" r="1.75"/><circle cx="193.28" cy="647.45" r="1.75"/><circle cx="191.69" cy="651.03" r="1.75"/><circle cx="191.01" cy="654.6" r="1.75"/><circle cx="189.41" cy="658.17" r="1.75"/><circle cx="188.5" cy="661.75" r="1.75"/><circle cx="186.22" cy="665.33" r="1.75"/><circle cx="183.72" cy="668.9" r="1.75"/><circle cx="180.99" cy="672.48" r="1.75"/><circle cx="175.75" cy="676.05" r="1.75"/><circle cx="173.93" cy="679.62" r="1.75"/><circle cx="171.65" cy="683.2" r="1.75"/></g>
<line x1="76.5" x2="329.5" y1="686.78" y2="686.78" stroke="#b9b5b3" stroke-width="1"/>
<line x1="206.5" x2="206.5" y1="351.8" y2="695.7" stroke="#111" stroke-width="1.2" stroke-dasharray="1.6 3.4" stroke-dashoffset="-1"/>
<line x1="200.6" x2="213.8" y1="690.35" y2="690.35" stroke="#e5261f" stroke-width="2.3"/>
<line x1="207.1" x2="213.2" y1="693.92" y2="693.92" stroke="#e5261f" stroke-width="2.1"/>
</g>
<g transform="translate(74.2,0) scale(0.94,1) translate(-74.2,0)" font-size="5.1" text-anchor="end" font-family="Liberation Sans, Arial, sans-serif" fill="#3a3a3a"><text x="74.2" y="356">rs17087841</text><text x="74.2" y="359.57">rs96579754</text><text x="74.2" y="363.15">rs3319487</text><text x="74.2" y="366.73">rs84911862</text><text x="74.2" y="370.3">rs37601895</text><text x="74.2" y="373.88">rs69797114</text><text x="74.2" y="377.45">rs20497465</text><text x="74.2" y="381.02">rs852917</text><text x="74.2" y="384.6">rs442366</text><text x="74.2" y="388.18">rs22768426</text><text x="74.2" y="391.75">rs56563212</text><text x="74.2" y="395.32">rs4307924</text><text x="74.2" y="398.9">rs12685995</text><text x="74.2" y="402.48">rs9907866</text><text x="74.2" y="406.05">rs71760313</text><text x="74.2" y="409.62">rs31590109</text><text x="74.2" y="413.2">rs9159013</text><text x="74.2" y="416.78">rs72459571</text><text x="74.2" y="420.35">rs8777412</text><text x="74.2" y="423.93">rs6472803</text><text x="74.2" y="427.5">rs62808414</text><text x="74.2" y="431.07">rs62538885</text><text x="74.2" y="434.65">rs493363387</text><text x="74.2" y="438.23">rs10474395</text><text x="74.2" y="441.8">rs65131373</text><text x="74.2" y="445.38">rs47990751</text><text x="74.2" y="448.95">rs263726516</text><text x="74.2" y="452.53">rs71222029</text><text x="74.2" y="456.1">rs39975288</text><text x="74.2" y="459.68">rs1018263</text><text x="74.2" y="463.25">rs1434839</text><text x="74.2" y="466.82">rs58620579</text><text x="74.2" y="470.4">rs78282880</text><text x="74.2" y="473.98">rs39022279</text><text x="74.2" y="477.55">rs9058887</text><text x="74.2" y="481.12">rs9033401</text><text x="74.2" y="484.7">rs88017598</text><text x="74.2" y="488.28">rs93478878</text><text x="74.2" y="491.85">rs9483726</text><text x="74.2" y="495.43">rs7751361</text><text x="74.2" y="499">rs5125242</text><text x="74.2" y="502.57">rs41672326</text><text x="74.2" y="506.15">rs75635515</text><text x="74.2" y="509.72">rs687706</text><text x="74.2" y="513.3">rs99481131</text><text x="74.2" y="516.88">rs5402426</text><text x="74.2" y="520.45">rs562889751</text><text x="74.2" y="524.03">rs12614014</text><text x="74.2" y="527.6">rs4141705</text><text x="74.2" y="531.18">rs74920831</text><text x="74.2" y="534.75">rs5023448</text><text x="74.2" y="538.33">rs5782450</text><text x="74.2" y="541.9">rs10088387</text><text x="74.2" y="545.48">rs8167868</text><text x="74.2" y="549.05">rs43532650</text><text x="74.2" y="552.62">rs1146201</text><text x="74.2" y="556.2">rs784934072</text><text x="74.2" y="559.78">rs5704558</text><text x="74.2" y="563.35">rs40435205</text><text x="74.2" y="566.93">rs27483380</text><text x="74.2" y="570.5">rs5126906</text><text x="74.2" y="574.08">rs543198</text><text x="74.2" y="577.65">rs7572492</text><text x="74.2" y="581.23">rs968288</text><text x="74.2" y="584.8">rs19310025</text><text x="74.2" y="588.38">rs7780083</text><text x="74.2" y="591.95">rs50718818</text><text x="74.2" y="595.53">rs8414333</text><text x="74.2" y="599.1">rs876174093</text><text x="74.2" y="602.68">rs3544992</text><text x="74.2" y="606.25">rs807413</text><text x="74.2" y="609.83">rs848477718</text><text x="74.2" y="613.4">rs5170471</text><text x="74.2" y="616.98">rs84633191</text><text x="74.2" y="620.55">rs9452984</text><text x="74.2" y="624.12">rs6377602</text><text x="74.2" y="627.7">rs876426</text><text x="74.2" y="631.28">rs75150556</text><text x="74.2" y="634.85">rs4044516</text><text x="74.2" y="638.43">rs25640410</text><text x="74.2" y="642">rs523468535</text><text x="74.2" y="645.58">rs16883106</text><text x="74.2" y="649.15">rs34708227</text><text x="74.2" y="652.73">rs64444634</text><text x="74.2" y="656.3">rs96122138</text><text x="74.2" y="659.88">rs93757628</text><text x="74.2" y="663.45">rs4125815</text><text x="74.2" y="667.03">rs6493066</text><text x="74.2" y="670.6">rs93645074</text><text x="74.2" y="674.18">rs62883143</text><text x="74.2" y="677.75">rs77640206</text><text x="74.2" y="681.33">rs80168773</text><text x="74.2" y="684.9">rs4841667</text><text x="74.2" y="692.05">All - MR Egger</text><text x="74.2" y="695.62">All - Inverse variance weighted</text></g>
<path d="M75 354.3H76.5M75 357.88H76.5M75 361.45H76.5M75 365.03H76.5M75 368.6H76.5M75 372.18H76.5M75 375.75H76.5M75 379.32H76.5M75 382.9H76.5M75 386.48H76.5M75 390.05H76.5M75 393.62H76.5M75 397.2H76.5M75 400.78H76.5M75 404.35H76.5M75 407.93H76.5M75 411.5H76.5M75 415.08H76.5M75 418.65H76.5M75 422.23H76.5M75 425.8H76.5M75 429.38H76.5M75 432.95H76.5M75 436.53H76.5M75 440.1H76.5M75 443.68H76.5M75 447.25H76.5M75 450.83H76.5M75 454.4H76.5M75 457.98H76.5M75 461.55H76.5M75 465.12H76.5M75 468.7H76.5M75 472.28H76.5M75 475.85H76.5M75 479.43H76.5M75 483H76.5M75 486.58H76.5M75 490.15H76.5M75 493.73H76.5M75 497.3H76.5M75 500.88H76.5M75 504.45H76.5M75 508.02H76.5M75 511.6H76.5M75 515.17H76.5M75 518.75H76.5M75 522.33H76.5M75 525.9H76.5M75 529.48H76.5M75 533.05H76.5M75 536.62H76.5M75 540.2H76.5M75 543.78H76.5M75 547.35H76.5M75 550.92H76.5M75 554.5H76.5M75 558.08H76.5M75 561.65H76.5M75 565.23H76.5M75 568.8H76.5M75 572.38H76.5M75 575.95H76.5M75 579.53H76.5M75 583.1H76.5M75 586.67H76.5M75 590.25H76.5M75 593.83H76.5M75 597.4H76.5M75 600.98H76.5M75 604.55H76.5M75 608.12H76.5M75 611.7H76.5M75 615.28H76.5M75 618.85H76.5M75 622.42H76.5M75 626H76.5M75 629.58H76.5M75 633.15H76.5M75 636.73H76.5M75 640.3H76.5M75 643.88H76.5M75 647.45H76.5M75 651.03H76.5M75 654.6H76.5M75 658.17H76.5M75 661.75H76.5M75 665.33H76.5M75 668.9H76.5M75 672.48H76.5M75 676.05H76.5M75 679.62H76.5M75 683.2H76.5M75 690.35H76.5M75 693.92H76.5" stroke="#555" stroke-width="0.5"/>
<text x="81.6" y="708" text-anchor="middle" font-size="9" font-weight="bold" font-family="Liberation Sans, Arial, sans-serif" fill="#111">-5.0</text>
<line y1="695.8" y2="697.6" x1="82.5" x2="82.5" stroke="#151515" stroke-width="0.9"/>
<text x="143.6" y="708" text-anchor="middle" font-size="9" font-weight="bold" font-family="Liberation Sans, Arial, sans-serif" fill="#111">-2.5</text>
<line y1="695.8" y2="697.6" x1="144.5" x2="144.5" stroke="#151515" stroke-width="0.9"/>
<text x="206.5" y="708" text-anchor="middle" font-size="9" font-weight="bold" font-family="Liberation Sans, Arial, sans-serif" fill="#111">0.0</text>
<line y1="695.8" y2="697.6" x1="206.5" x2="206.5" stroke="#151515" stroke-width="0.9"/>
<text x="268.5" y="708" text-anchor="middle" font-size="9" font-weight="bold" font-family="Liberation Sans, Arial, sans-serif" fill="#111">2.5</text>
<line y1="695.8" y2="697.6" x1="268.5" x2="268.5" stroke="#151515" stroke-width="0.9"/>
<text x="329.3" y="708" text-anchor="middle" font-size="9" font-weight="bold" font-family="Liberation Sans, Arial, sans-serif" fill="#111">5.0</text>
<line y1="695.8" y2="697.6" x1="330.5" x2="330.5" stroke="#151515" stroke-width="0.9"/>
<text x="204.4" y="722" text-anchor="middle" font-size="9.4" font-weight="bold" font-family="Liberation Sans, Arial, sans-serif" fill="#111">MR effect size for ‘sleep disorder’ on ‘male infertility’</text>
<rect x="389.6" y="351.9" width="290.7" height="344.3" fill="#e8e4e2"/>
<path d="M389.6 354.05H680.3M389.6 357.67H680.3M389.6 361.28H680.3M389.6 364.9H680.3M389.6 368.51H680.3M389.6 372.12H680.3M389.6 375.74H680.3M389.6 379.36H680.3M389.6 382.97H680.3M389.6 386.59H680.3M389.6 390.2H680.3M389.6 393.81H680.3M389.6 397.43H680.3M389.6 401.05H680.3M389.6 404.66H680.3M389.6 408.28H680.3M389.6 411.89H680.3M389.6 415.5H680.3M389.6 419.12H680.3M389.6 422.74H680.3M389.6 426.35H680.3M389.6 429.97H680.3M389.6 433.58H680.3M389.6 437.2H680.3M389.6 440.81H680.3M389.6 444.43H680.3M389.6 448.04H680.3M389.6 451.66H680.3M389.6 455.27H680.3M389.6 458.88H680.3M389.6 462.5H680.3M389.6 466.12H680.3M389.6 469.73H680.3M389.6 473.35H680.3M389.6 476.96H680.3M389.6 480.58H680.3M389.6 484.19H680.3M389.6 487.81H680.3M389.6 491.42H680.3M389.6 495.04H680.3M389.6 498.65H680.3M389.6 502.26H680.3M389.6 505.88H680.3M389.6 509.5H680.3M389.6 513.11H680.3M389.6 516.73H680.3M389.6 520.34H680.3M389.6 523.96H680.3M389.6 527.57H680.3M389.6 531.19H680.3M389.6 534.8H680.3M389.6 538.41H680.3M389.6 542.03H680.3M389.6 545.64H680.3M389.6 549.26H680.3M389.6 552.88H680.3M389.6 556.49H680.3M389.6 560.11H680.3M389.6 563.72H680.3M389.6 567.34H680.3M389.6 570.95H680.3M389.6 574.57H680.3M389.6 578.18H680.3M389.6 581.8H680.3M389.6 585.41H680.3M389.6 589.03H680.3M389.6 592.64H680.3M389.6 596.25H680.3M389.6 599.87H680.3M389.6 603.49H680.3M389.6 607.1H680.3M389.6 610.72H680.3M389.6 614.33H680.3M389.6 617.95H680.3M389.6 621.56H680.3M389.6 625.17H680.3M389.6 628.79H680.3M389.6 632.4H680.3M389.6 636.02H680.3M389.6 639.63H680.3M389.6 643.25H680.3M389.6 646.87H680.3M389.6 650.48H680.3M389.6 654.1H680.3M389.6 657.71H680.3M389.6 661.33H680.3M389.6 664.94H680.3M389.6 668.56H680.3M389.6 672.17H680.3M389.6 675.79H680.3M389.6 679.4H680.3M389.6 683.02H680.3M389.6 686.63H680.3M389.6 690.25H680.3M389.6 693.86H680.3" stroke="#fcfbfa" stroke-width="1.7" fill="none"/>
<path d="M430.5 354.05H667M429.9 357.67H666M429.3 361.28H664.1M428.8 364.9H663.5M428.4 368.51H663.1M428 372.12H663.1M427.4 375.74H662.1M427.2 379.36H661.9M426.8 382.97H661.5M426.4 386.59H661.1M422.7 390.2H663.5M424.7 393.81H660.5M424.7 397.43H659.4M424.3 401.05H659M424.1 404.66H658.6M423.9 408.28H658.4M423.7 411.89H658.4M423.3 415.5H658M423.1 419.12H658M422.7 422.74H657.4M421.7 426.35H657M421.5 429.97H656.4M421.37 433.58H656.27M421.23 437.2H656.13M421.1 440.81H656M420.96 444.43H655.86M420.83 448.04H655.73M420.69 451.66H655.59M420.56 455.27H655.46M420.42 458.88H655.32M420.29 462.5H655.19M420.16 466.12H655.06M420.02 469.73H654.92M419.89 473.35H654.79M419.75 476.96H654.65M419.62 480.58H654.52M419.48 484.19H654.38M419.35 487.81H654.25M419.21 491.42H654.11M419.08 495.04H653.98M418.94 498.65H653.84M418.81 502.26H653.71M418.68 505.88H653.58M418.54 509.5H653.44M418.41 513.11H653.31M418.27 516.73H653.17M418.14 520.34H653.04M418 523.96H652.9M417.87 527.57H652.77M417.73 531.19H652.63M417.6 534.8H652.5M417.42 538.41H652.34M417.25 542.03H652.18M417.07 545.64H652.01M416.9 549.26H651.85M416.72 552.88H651.69M416.54 556.49H651.53M416.37 560.11H651.37M416.19 563.72H651.2M416.02 567.34H651.04M415.84 570.95H650.88M415.67 574.57H650.72M415.49 578.18H650.56M415.31 581.8H650.39M415.14 585.41H650.23M414.96 589.03H650.07M414.79 592.64H649.91M414.61 596.25H649.74M414.43 599.87H649.58M414.26 603.49H649.42M414.08 607.1H649.26M413.91 610.72H649.1M413.73 614.33H648.93M413.56 617.95H648.77M413.38 621.56H648.61M413.2 625.17H648.45M413.03 628.79H648.29M412.85 632.4H648.12M412.68 636.02H647.96M412.5 639.63H647.8M412.1 643.25H647.6M411.9 646.87H646.8M411.5 650.48H646.6M411.1 654.1H646.2M410.9 657.71H645.8M410.4 661.33H645.6M410.2 664.94H645.1M409.8 668.56H644.7M408.8 672.17H643.9M408 675.79H643.5M406.4 679.4H642.7M404.9 683.02H639M403.7 686.63H638" stroke="#fbfaf8" stroke-width="3.7" fill="none" opacity="0.3"/>
<g stroke="#fcfbfa"><line x1="450.85" x2="450.85" y1="351.9" y2="696.2" stroke-width="0.6"/><line x1="543.15" x2="543.15" y1="351.9" y2="696.2" stroke-width="0.6"/><line x1="635.45" x2="635.45" y1="351.9" y2="696.2" stroke-width="0.6"/><line x1="404.7" x2="404.7" y1="351.9" y2="696.2" stroke-width="1.2"/><line x1="497" x2="497" y1="351.9" y2="696.2" stroke-width="1.2"/><line x1="589.3" x2="589.3" y1="351.9" y2="696.2" stroke-width="1.2"/></g>
<path d="M430.5 354.05H667M429.9 357.67H666M429.3 361.28H664.1M428.8 364.9H663.5M428.4 368.51H663.1M428 372.12H663.1M427.4 375.74H662.1M427.2 379.36H661.9M426.8 382.97H661.5M426.4 386.59H661.1M422.7 390.2H663.5M424.7 393.81H660.5M424.7 397.43H659.4M424.3 401.05H659M424.1 404.66H658.6M423.9 408.28H658.4M423.7 411.89H658.4M423.3 415.5H658M423.1 419.12H658M422.7 422.74H657.4M421.7 426.35H657M421.5 429.97H656.4M421.37 433.58H656.27M421.23 437.2H656.13M421.1 440.81H656M420.96 444.43H655.86M420.83 448.04H655.73M420.69 451.66H655.59M420.56 455.27H655.46M420.42 458.88H655.32M420.29 462.5H655.19M420.16 466.12H655.06M420.02 469.73H654.92M419.89 473.35H654.79M419.75 476.96H654.65M419.62 480.58H654.52M419.48 484.19H654.38M419.35 487.81H654.25M419.21 491.42H654.11M419.08 495.04H653.98M418.94 498.65H653.84M418.81 502.26H653.71M418.68 505.88H653.58M418.54 509.5H653.44M418.41 513.11H653.31M418.27 516.73H653.17M418.14 520.34H653.04M418 523.96H652.9M417.87 527.57H652.77M417.73 531.19H652.63M417.6 534.8H652.5M417.42 538.41H652.34M417.25 542.03H652.18M417.07 545.64H652.01M416.9 549.26H651.85M416.72 552.88H651.69M416.54 556.49H651.53M416.37 560.11H651.37M416.19 563.72H651.2M416.02 567.34H651.04M415.84 570.95H650.88M415.67 574.57H650.72M415.49 578.18H650.56M415.31 581.8H650.39M415.14 585.41H650.23M414.96 589.03H650.07M414.79 592.64H649.91M414.61 596.25H649.74M414.43 599.87H649.58M414.26 603.49H649.42M414.08 607.1H649.26M413.91 610.72H649.1M413.73 614.33H648.93M413.56 617.95H648.77M413.38 621.56H648.61M413.2 625.17H648.45M413.03 628.79H648.29M412.85 632.4H648.12M412.68 636.02H647.96M412.5 639.63H647.8M412.1 643.25H647.6M411.9 646.87H646.8M411.5 650.48H646.6M411.1 654.1H646.2M410.9 657.71H645.8M410.4 661.33H645.6M410.2 664.94H645.1M409.8 668.56H644.7M408.8 672.17H643.9M408 675.79H643.5M406.4 679.4H642.7M404.9 683.02H639M403.7 686.63H638" stroke="#1e1c1b" stroke-width="1.55" fill="none"/>
<g fill="#050505"><circle cx="548.68" cy="354.05" r="1.6"/><circle cx="547.48" cy="357.67" r="1.6"/><circle cx="546.57" cy="361.28" r="1.6"/><circle cx="546.21" cy="364.9" r="1.6"/><circle cx="545.85" cy="368.51" r="1.6"/><circle cx="545.49" cy="372.12" r="1.6"/><circle cx="545.08" cy="375.74" r="1.6"/><circle cx="544.47" cy="379.36" r="1.6"/><circle cx="543.87" cy="382.97" r="1.6"/><circle cx="543.27" cy="386.59" r="1.6"/><circle cx="542.68" cy="390.2" r="1.6"/><circle cx="542.27" cy="393.81" r="1.6"/><circle cx="541.86" cy="397.43" r="1.6"/><circle cx="541.45" cy="401.05" r="1.6"/><circle cx="541.04" cy="404.66" r="1.6"/><circle cx="540.59" cy="408.28" r="1.6"/><circle cx="540.14" cy="411.89" r="1.6"/><circle cx="539.7" cy="415.5" r="1.6"/><circle cx="539.25" cy="419.12" r="1.6"/><circle cx="539.04" cy="422.74" r="1.6"/><circle cx="538.86" cy="426.35" r="1.6"/><circle cx="538.69" cy="429.97" r="1.6"/><circle cx="538.51" cy="433.58" r="1.6"/><circle cx="538.33" cy="437.2" r="1.6"/><circle cx="538.16" cy="440.81" r="1.6"/><circle cx="537.98" cy="444.43" r="1.6"/><circle cx="537.84" cy="448.04" r="1.6"/><circle cx="537.69" cy="451.66" r="1.6"/><circle cx="537.55" cy="455.27" r="1.6"/><circle cx="537.4" cy="458.88" r="1.6"/><circle cx="537.26" cy="462.5" r="1.6"/><circle cx="537.12" cy="466.12" r="1.6"/><circle cx="536.98" cy="469.73" r="1.6"/><circle cx="536.86" cy="473.35" r="1.6"/><circle cx="536.75" cy="476.96" r="1.6"/><circle cx="536.63" cy="480.58" r="1.6"/><circle cx="536.51" cy="484.19" r="1.6"/><circle cx="536.4" cy="487.81" r="1.6"/><circle cx="536.28" cy="491.42" r="1.6"/><circle cx="536.18" cy="495.04" r="1.6"/><circle cx="536.1" cy="498.65" r="1.6"/><circle cx="536.02" cy="502.26" r="1.6"/><circle cx="535.95" cy="505.88" r="1.6"/><circle cx="535.87" cy="509.5" r="1.6"/><circle cx="535.79" cy="513.11" r="1.6"/><circle cx="535.71" cy="516.73" r="1.6"/><circle cx="535.64" cy="520.34" r="1.6"/><circle cx="535.54" cy="523.96" r="1.6"/><circle cx="535.43" cy="527.57" r="1.6"/><circle cx="535.32" cy="531.19" r="1.6"/><circle cx="535.21" cy="534.8" r="1.6"/><circle cx="535.1" cy="538.41" r="1.6"/><circle cx="534.99" cy="542.03" r="1.6"/><circle cx="534.87" cy="545.64" r="1.6"/><circle cx="534.69" cy="549.26" r="1.6"/><circle cx="534.52" cy="552.88" r="1.6"/><circle cx="534.34" cy="556.49" r="1.6"/><circle cx="534.16" cy="560.11" r="1.6"/><circle cx="533.99" cy="563.72" r="1.6"/><circle cx="533.81" cy="567.34" r="1.6"/><circle cx="533.65" cy="570.95" r="1.6"/><circle cx="533.5" cy="574.57" r="1.6"/><circle cx="533.36" cy="578.18" r="1.6"/><circle cx="533.21" cy="581.8" r="1.6"/><circle cx="533.07" cy="585.41" r="1.6"/><circle cx="532.92" cy="589.03" r="1.6"/><circle cx="532.77" cy="592.64" r="1.6"/><circle cx="532.62" cy="596.25" r="1.6"/><circle cx="532.44" cy="599.87" r="1.6"/><circle cx="532.27" cy="603.49" r="1.6"/><circle cx="532.09" cy="607.1" r="1.6"/><circle cx="531.92" cy="610.72" r="1.6"/><circle cx="531.74" cy="614.33" r="1.6"/><circle cx="531.57" cy="617.95" r="1.6"/><circle cx="531.34" cy="621.56" r="1.6"/><circle cx="531.07" cy="625.17" r="1.6"/><circle cx="530.81" cy="628.79" r="1.6"/><circle cx="530.54" cy="632.4" r="1.6"/><circle cx="530.28" cy="636.02" r="1.6"/><circle cx="530.02" cy="639.63" r="1.6"/><circle cx="529.75" cy="643.25" r="1.6"/><circle cx="529.51" cy="646.87" r="1.6"/><circle cx="529.27" cy="650.48" r="1.6"/><circle cx="529.03" cy="654.1" r="1.6"/><circle cx="528.79" cy="657.71" r="1.6"/><circle cx="528.42" cy="661.33" r="1.6"/><circle cx="527.99" cy="664.94" r="1.6"/><circle cx="527.55" cy="668.56" r="1.6"/><circle cx="526.71" cy="672.17" r="1.6"/><circle cx="525.86" cy="675.79" r="1.6"/><circle cx="524.88" cy="679.4" r="1.6"/><circle cx="521.43" cy="683.02" r="1.6"/><circle cx="520.84" cy="686.63" r="1.6"/></g>
<line x1="389.6" x2="680.3" y1="690.25" y2="690.25" stroke="#b9b5b3" stroke-width="1"/>
<line x1="404.7" x2="404.7" y1="351.9" y2="696.2" stroke="#111" stroke-width="1.2" stroke-dasharray="1.6 3.4" stroke-dashoffset="-1"/>
<line x1="419" x2="652.7" y1="693.86" y2="693.86" stroke="#e5362f" stroke-width="3.4"/>
<g transform="translate(387.3,0) scale(0.94,1) translate(-387.3,0)" font-size="4.85" text-anchor="end" font-family="Liberation Sans, Arial, sans-serif" fill="#3a3a3a"><text x="387.3" y="355.75">rs72941336</text><text x="387.3" y="359.37">rs4228171</text><text x="387.3" y="362.98">rs10239042</text><text x="387.3" y="366.6">rs586111489</text><text x="387.3" y="370.21">rs7439008</text><text x="387.3" y="373.82">rs84537838</text><text x="387.3" y="377.44">rs1640037</text><text x="387.3" y="381.06">rs714365370</text><text x="387.3" y="384.67">rs75630481</text><text x="387.3" y="388.29">rs8343373</text><text x="387.3" y="391.9">rs51979237</text><text x="387.3" y="395.51">rs19260309</text><text x="387.3" y="399.13">rs7002675</text><text x="387.3" y="402.75">rs2253287</text><text x="387.3" y="406.36">rs565572</text><text x="387.3" y="409.98">rs1141561</text><text x="387.3" y="413.59">rs46546107</text><text x="387.3" y="417.2">rs6873557</text><text x="387.3" y="420.82">rs736060</text><text x="387.3" y="424.44">rs20431955</text><text x="387.3" y="428.05">rs69045440</text><text x="387.3" y="431.67">rs20317764</text><text x="387.3" y="435.28">rs82720429</text><text x="387.3" y="438.9">rs6575918</text><text x="387.3" y="442.51">rs7236107</text><text x="387.3" y="446.12">rs95261149</text><text x="387.3" y="449.74">rs4167723</text><text x="387.3" y="453.36">rs7793814</text><text x="387.3" y="456.97">rs59454437</text><text x="387.3" y="460.58">rs3332493</text><text x="387.3" y="464.2">rs26438831</text><text x="387.3" y="467.81">rs801073750</text><text x="387.3" y="471.43">rs41039931</text><text x="387.3" y="475.05">rs92794019</text><text x="387.3" y="478.66">rs63055203</text><text x="387.3" y="482.28">rs19305652</text><text x="387.3" y="485.89">rs51307871</text><text x="387.3" y="489.5">rs26828126</text><text x="387.3" y="493.12">rs74460495</text><text x="387.3" y="496.74">rs70536630</text><text x="387.3" y="500.35">rs36116957</text><text x="387.3" y="503.96">rs3008261</text><text x="387.3" y="507.58">rs68225428</text><text x="387.3" y="511.19">rs2167342</text><text x="387.3" y="514.81">rs850961</text><text x="387.3" y="518.43">rs33969372</text><text x="387.3" y="522.04">rs40682651</text><text x="387.3" y="525.66">rs4308051</text><text x="387.3" y="529.27">rs88464936</text><text x="387.3" y="532.89">rs67872009</text><text x="387.3" y="536.5">rs83797276</text><text x="387.3" y="540.12">rs2256517</text><text x="387.3" y="543.73">rs90021581</text><text x="387.3" y="547.35">rs962019</text><text x="387.3" y="550.96">rs4274231</text><text x="387.3" y="554.58">rs52594724</text><text x="387.3" y="558.19">rs83949835</text><text x="387.3" y="561.81">rs13262456</text><text x="387.3" y="565.42">rs5180578</text><text x="387.3" y="569.04">rs24865465</text><text x="387.3" y="572.65">rs35517329</text><text x="387.3" y="576.27">rs584495</text><text x="387.3" y="579.88">rs132496</text><text x="387.3" y="583.5">rs95027390</text><text x="387.3" y="587.11">rs109541</text><text x="387.3" y="590.73">rs68369492</text><text x="387.3" y="594.34">rs6972203</text><text x="387.3" y="597.96">rs8112464</text><text x="387.3" y="601.57">rs185997</text><text x="387.3" y="605.19">rs97320008</text><text x="387.3" y="608.8">rs723201</text><text x="387.3" y="612.42">rs932638</text><text x="387.3" y="616.03">rs96928414</text><text x="387.3" y="619.65">rs178066717</text><text x="387.3" y="623.26">rs4143015</text><text x="387.3" y="626.88">rs14868443</text><text x="387.3" y="630.49">rs9024332</text><text x="387.3" y="634.11">rs46593687</text><text x="387.3" y="637.72">rs90063943</text><text x="387.3" y="641.34">rs29220011</text><text x="387.3" y="644.95">rs35200020</text><text x="387.3" y="648.57">rs1195381</text><text x="387.3" y="652.18">rs23331001</text><text x="387.3" y="655.8">rs571213455</text><text x="387.3" y="659.41">rs50544055</text><text x="387.3" y="663.03">rs97490606</text><text x="387.3" y="666.64">rs25708931</text><text x="387.3" y="670.26">rs52608340</text><text x="387.3" y="673.87">rs671727</text><text x="387.3" y="677.49">rs68492433</text><text x="387.3" y="681.1">rs31178155</text><text x="387.3" y="684.72">rs7616053</text><text x="387.3" y="688.33">rs12093256</text><text x="387.3" y="695.56">All</text></g>
<path d="M388.1 354.05H389.6M388.1 357.67H389.6M388.1 361.28H389.6M388.1 364.9H389.6M388.1 368.51H389.6M388.1 372.12H389.6M388.1 375.74H389.6M388.1 379.36H389.6M388.1 382.97H389.6M388.1 386.59H389.6M388.1 390.2H389.6M388.1 393.81H389.6M388.1 397.43H389.6M388.1 401.05H389.6M388.1 404.66H389.6M388.1 408.28H389.6M388.1 411.89H389.6M388.1 415.5H389.6M388.1 419.12H389.6M388.1 422.74H389.6M388.1 426.35H389.6M388.1 429.97H389.6M388.1 433.58H389.6M388.1 437.2H389.6M388.1 440.81H389.6M388.1 444.43H389.6M388.1 448.04H389.6M388.1 451.66H389.6M388.1 455.27H389.6M388.1 458.88H389.6M388.1 462.5H389.6M388.1 466.12H389.6M388.1 469.73H389.6M388.1 473.35H389.6M388.1 476.96H389.6M388.1 480.58H389.6M388.1 484.19H389.6M388.1 487.81H389.6M388.1 491.42H389.6M388.1 495.04H389.6M388.1 498.65H389.6M388.1 502.26H389.6M388.1 505.88H389.6M388.1 509.5H389.6M388.1 513.11H389.6M388.1 516.73H389.6M388.1 520.34H389.6M388.1 523.96H389.6M388.1 527.57H389.6M388.1 531.19H389.6M388.1 534.8H389.6M388.1 538.41H389.6M388.1 542.03H389.6M388.1 545.64H389.6M388.1 549.26H389.6M388.1 552.88H389.6M388.1 556.49H389.6M388.1 560.11H389.6M388.1 563.72H389.6M388.1 567.34H389.6M388.1 570.95H389.6M388.1 574.57H389.6M388.1 578.18H389.6M388.1 581.8H389.6M388.1 585.41H389.6M388.1 589.03H389.6M388.1 592.64H389.6M388.1 596.25H389.6M388.1 599.87H389.6M388.1 603.49H389.6M388.1 607.1H389.6M388.1 610.72H389.6M388.1 614.33H389.6M388.1 617.95H389.6M388.1 621.56H389.6M388.1 625.17H389.6M388.1 628.79H389.6M388.1 632.4H389.6M388.1 636.02H389.6M388.1 639.63H389.6M388.1 643.25H389.6M388.1 646.87H389.6M388.1 650.48H389.6M388.1 654.1H389.6M388.1 657.71H389.6M388.1 661.33H389.6M388.1 664.94H389.6M388.1 668.56H389.6M388.1 672.17H389.6M388.1 675.79H389.6M388.1 679.4H389.6M388.1 683.02H389.6M388.1 686.63H389.6M388.1 693.86H389.6" stroke="#555" stroke-width="0.5"/>
<text x="404.4" y="707.4" text-anchor="middle" font-size="9" font-weight="bold" font-family="Liberation Sans, Arial, sans-serif" fill="#111">0.0</text>
<line y1="696.3" y2="698.1" x1="404.7" x2="404.7" stroke="#151515" stroke-width="0.9"/>
<text x="496.7" y="707.4" text-anchor="middle" font-size="9" font-weight="bold" font-family="Liberation Sans, Arial, sans-serif" fill="#111">0.1</text>
<line y1="696.3" y2="698.1" x1="497" x2="497" stroke="#151515" stroke-width="0.9"/>
<text x="589" y="707.4" text-anchor="middle" font-size="9" font-weight="bold" font-family="Liberation Sans, Arial, sans-serif" fill="#111">0.2</text>
<line y1="696.3" y2="698.1" x1="589.3" x2="589.3" stroke="#151515" stroke-width="0.9"/>
<text x="340" y="722" font-size="9.45" font-weight="bold" font-family="Liberation Sans, Arial, sans-serif" fill="#111">MR leave-one-out sensitivity analysis for ‘sleep disorder’ on ‘male infertility’</text>
<text x="6" y="14.7" font-size="19.3" font-weight="bold" font-family="Liberation Sans, Arial, sans-serif" fill="#000">A</text>
<text x="335.8" y="14.7" font-size="19.3" font-weight="bold" font-family="Liberation Sans, Arial, sans-serif" fill="#000">B</text>
<text x="6.2" y="337.3" font-size="19.3" font-weight="bold" font-family="Liberation Sans, Arial, sans-serif" fill="#000">C</text>
<text x="335.8" y="337.3" font-size="19.3" font-weight="bold" font-family="Liberation Sans, Arial, sans-serif" fill="#000">D</text>
</svg></body></html>
